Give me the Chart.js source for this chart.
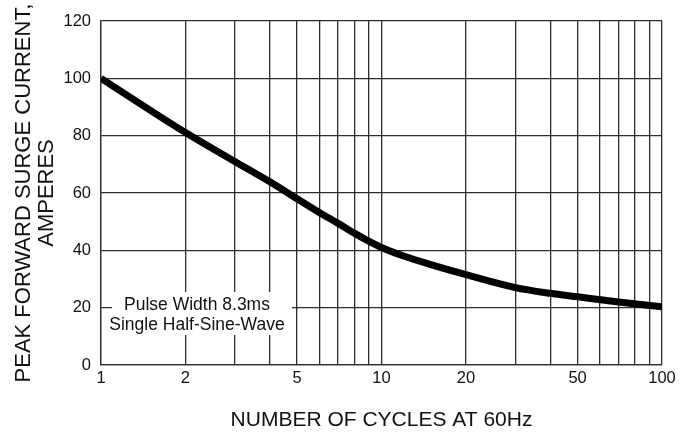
<!DOCTYPE html>
<html><head><meta charset="utf-8">
<script src="https://cdn.jsdelivr.net/npm/chart.js@4/dist/chart.umd.min.js"></script>
<style>html,body{margin:0;padding:0;background:#fff}#wrap{width:686px;height:435px;position:relative}</style>
</head><body><div id="wrap"><canvas id="c"></canvas></div>
<script>
const cycles = [1, 2, 3, 4, 5, 6, 7, 8, 9, 10, 12, 15, 20, 30, 40, 50, 70, 100];
const surgeCurrent = [100, 81.1, 71.0, 63.9, 58.0, 53.2, 49.4, 46.0, 43.2, 41.0, 38.0, 35.0, 31.5, 27.0, 25.0, 23.8, 22.0, 20.3];
const xGridValues = [1, 2, 3, 4, 5, 6, 7, 8, 9, 10, 20, 30, 40, 50, 60, 70, 80, 90, 100];
const xLabelValues = [1, 2, 5, 10, 20, 50, 100];
const yTickValues = [0, 20, 40, 60, 80, 100, 120];
const xTitle = 'NUMBER OF CYCLES AT 60Hz';
const yTitle = ['PEAK FORWARD SURGE CURRENT,', 'AMPERES'];
const noteLines = ['Pulse Width 8.3ms', 'Single Half-Sine-Wave'];

const FONT = '"Liberation Sans", Arial, Helvetica, sans-serif';
const GRID = '#2e2e2e';
const TEXT = '#111';

const notePlugin = {
  id: 'note',
  beforeDatasetsDraw(chart) {
    const { ctx, chartArea: a } = chart;
    ctx.save();
    ctx.fillStyle = '#fff';
    ctx.fillRect(a.left + 11, a.bottom - 73, 180, 43);
    ctx.fillStyle = TEXT;
    ctx.font = '17.5px ' + FONT;
    ctx.textAlign = 'center';
    ctx.textBaseline = 'alphabetic';
    const cx = a.left + 96;
    ctx.fillText(noteLines[0], cx, a.bottom - 55);
    ctx.fillText(noteLines[1], cx, a.bottom - 35);
    ctx.restore();
  }
};

new Chart(document.getElementById('c'), {
  type: 'line',
  data: {
    datasets: [{
      data: cycles.map((c, i) => ({ x: c, y: surgeCurrent[i] })),
      borderColor: '#000',
      borderWidth: 7,
      pointRadius: 0,
      fill: false,
      cubicInterpolationMode: 'monotone',
      borderCapStyle: 'butt'
    }]
  },
  options: {
    responsive: true,
    maintainAspectRatio: false,
    animation: false,
    events: [],
    layout: { padding: { left: 0, right: 24, top: 21, bottom: 0 } },
    plugins: { legend: { display: false }, tooltip: { enabled: false } },
    scales: {
      x: {
        type: 'logarithmic',
        min: 1, max: 100,
        afterBuildTicks: s => { s.ticks = xGridValues.map(v => ({ value: v })); },
        afterFit: s => { s.height = 70; },
        grid: { color: GRID, lineWidth: 1.3, drawTicks: false },
        border: { color: GRID, width: 1.3 },
        ticks: {
          autoSkip: false, maxRotation: 0, minRotation: 0, padding: 4, color: TEXT,
          font: { family: FONT, size: 16.5 },
          callback: v => xLabelValues.includes(v) ? String(v) : ''
        },
        title: {
          display: true, text: xTitle, color: TEXT,
          font: { family: FONT, size: 21, lineHeight: 1.2 },
          padding: { top: 0, bottom: 2 }
        }
      },
      y: {
        min: 0, max: 120,
        afterBuildTicks: s => { s.ticks = yTickValues.map(v => ({ value: v })); },
        afterFit: s => { s.width = 101; },
        grid: { color: GRID, lineWidth: 1.3, drawTicks: false },
        border: { color: GRID, width: 1.3 },
        ticks: { padding: 10, color: TEXT, font: { family: FONT, size: 16.5 } },
        title: {
          display: true, text: yTitle, color: TEXT,
          font: { family: FONT, size: 22, lineHeight: 1.07 },
          padding: { top: 12, bottom: 0 }
        }
      }
    }
  },
  plugins: [notePlugin]
});
</script></body></html>
